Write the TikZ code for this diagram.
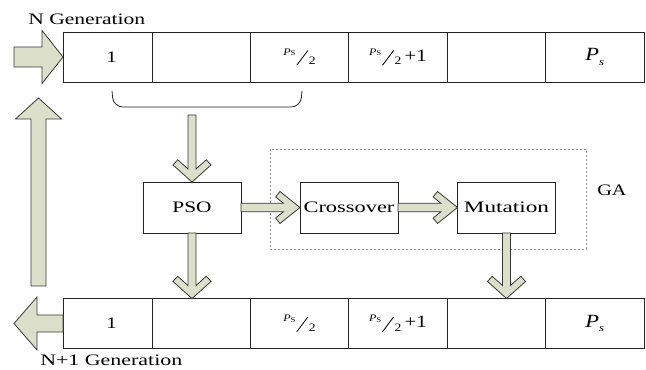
\documentclass[tikz,border=0pt]{standalone}
\usepackage{fontspec}
\usepackage{graphicx}
\setmainfont{Liberation Serif}
\usetikzlibrary{calc}
\definecolor{afill}{RGB}{220,224,203}
\definecolor{aline}{RGB}{55,55,55}
\definecolor{bline}{RGB}{35,35,35}
\newcommand\sx[2]{\scalebox{#1}[1]{#2}}
\newcommand\halfP{\raisebox{0.8ex}{\fontsize{7.5}{7.5}\selectfont\textit{P}\raisebox{-0.15ex}{\fontsize{5.5}{6}\selectfont S}}\hspace{0.5pt}\raisebox{-0.6ex}{\rotatebox{58}{\rule{13pt}{0.55pt}}}\hspace{0.5pt}\raisebox{-0.5ex}{\fontsize{8.5}{8.5}\selectfont 2}}
\newcommand\Ps{{\fontsize{14}{14}\selectfont\textit{P}\raisebox{-0.5ex}{\fontsize{8}{8}\selectfont\textit{s}}}}
% chevron arrow pointing down: #1 start, #2 tip
\newcommand\chevdown[2]{\draw[blk] ($(#1)+(-4,0)$) -- ($(#2)+(-4,-13)$) -- ($(#2)+(-14.3,-22.2)$) -- ($(#2)+(-19,-17)$) -- (#2) -- ($(#2)+(19,-17)$) -- ($(#2)+(14.3,-22.2)$) -- ($(#2)+(4,-13)$) -- ($(#1)+(4,0)$) -- cycle;}
% chevron arrow pointing right
\newcommand\chevright[2]{\draw[blk] ($(#1)+(0,-4.3)$) -- ($(#2)+(-16.6,-4.3)$) -- ($(#2)+(-24.4,-10.5)$) -- ($(#2)+(-20,-16)$) -- (#2) -- ($(#2)+(-20,16)$) -- ($(#2)+(-24.4,10.5)$) -- ($(#2)+(-16.6,4.3)$) -- ($(#1)+(0,4.3)$) -- cycle;}
\begin{document}
\begin{tikzpicture}[x=0.75pt,y=-0.75pt,
  cell/.style={draw=bline, line width=0.6pt, minimum width=73.8pt, minimum height=37.5pt, inner sep=0pt, outer sep=0pt, font=\fontsize{12}{14}\selectfont},
  proc/.style={draw=bline, line width=0.6pt, minimum width=73.5pt, minimum height=38.25pt, inner sep=0pt, outer sep=0pt, font=\fontsize{12}{14}\selectfont},
  blk/.style={fill=afill, draw=aline, line width=0.6pt, line join=miter},
  lbl/.style={font=\fontsize{12}{14}\selectfont, inner sep=0pt},
  gabox/.style={draw=black!45, line width=0.5pt, dash pattern=on 1.8pt off 1.2pt, minimum width=237pt, minimum height=75pt, inner sep=0pt}]
\useasboundingbox (0,0) rectangle (646,370);

% top row
\node[cell, minimum width=66.75pt] (t1) at (107.5,57) {\hspace{6pt}\sx{1.3}{1}};
\node[cell] (t2) at (201.2,57) {};
\node[cell] (t3) at (299.6,57) {\sx{1.2}{\halfP}};
\node[cell] (t4) at (398,57) {\sx{1.2}{\halfP\hspace{2pt}{\fontsize{13}{13}\selectfont +1}}};
\node[cell] (t5) at (496.4,57) {};
\node[cell] (t6) at (594.8,57) {\sx{1.2}{\Ps}};

% bottom row
\node[cell, minimum width=66.75pt] (b1) at (107.5,323.5) {\hspace{6pt}\sx{1.3}{1}};
\node[cell] (b2) at (201.2,323.5) {};
\node[cell] (b3) at (299.6,323.5) {\sx{1.2}{\halfP}};
\node[cell] (b4) at (398,323.5) {\sx{1.2}{\halfP\hspace{2pt}{\fontsize{13}{13}\selectfont +1}}};
\node[cell] (b5) at (496.4,323.5) {};
\node[cell] (b6) at (594.8,323.5) {\sx{1.2}{\Ps}};

% labels
\node[lbl, anchor=base west] (ng) at (28,25) {\sx{1.35}{N Generation}};
\node[lbl, anchor=base west] (n1g) at (40,365) {\sx{1.37}{N+1 Generation}};

% GA box
\node[gabox] (ga) at (428,199) {};
\node[lbl, anchor=base west] (gal) at (597,196) {\sx{1.26}{GA}};

% process boxes
\node[proc] (pso) at (192,207.5) {\sx{1.33}{PSO}};
\node[proc] (cro) at (349,207.5) {\sx{1.4}{Crossover}};
\node[proc] (mut) at (506.5,207.5) {\sx{1.45}{Mutation}};

% brace under first half
\draw[bline, line width=0.6pt, rounded corners=7pt] (112,91) -- (113.5,107) -- (300.5,107) -- (302,91);

% coordinates
\coordinate (bz) at (192,115);
\coordinate (p1) at (pso.south |- b2.north);
\coordinate (m1) at (mut.south |- b5.north);

% chevron arrows
\chevdown{bz}{pso.north}
\chevdown{pso.south}{p1}
\chevright{pso.east}{cro.west}
\chevright{cro.east}{mut.west}
\chevdown{mut.south}{m1}

% big block arrows
\coordinate (ain) at (14,57);
\draw[blk] ($(ain)+(0,-10)$) -- ($(t1.west)+(-21,-10)$) -- ($(t1.west)+(-21,-26.5)$) -- (t1.west) -- ($(t1.west)+(-21,26.5)$) -- ($(t1.west)+(-21,10)$) -- ($(ain)+(0,10)$) -- cycle;

\coordinate (aup0) at (38.5,286);
\coordinate (aup1) at (38.5,98);
\draw[blk] ($(aup0)+(-7.5,0)$) -- ($(aup1)+(-7.5,21)$) -- ($(aup1)+(-23,21)$) -- (aup1) -- ($(aup1)+(23,21)$) -- ($(aup1)+(7.5,21)$) -- ($(aup0)+(7.5,0)$) -- cycle;

\coordinate (aout) at (14,323.5);
\draw[blk] ($(b1.west)+(0,-8.5)$) -- ($(aout)+(23,-8.5)$) -- ($(aout)+(23,-26.5)$) -- (aout) -- ($(aout)+(23,26.5)$) -- ($(aout)+(23,8.5)$) -- ($(b1.west)+(0,8.5)$) -- cycle;
\end{tikzpicture}
\end{document}
